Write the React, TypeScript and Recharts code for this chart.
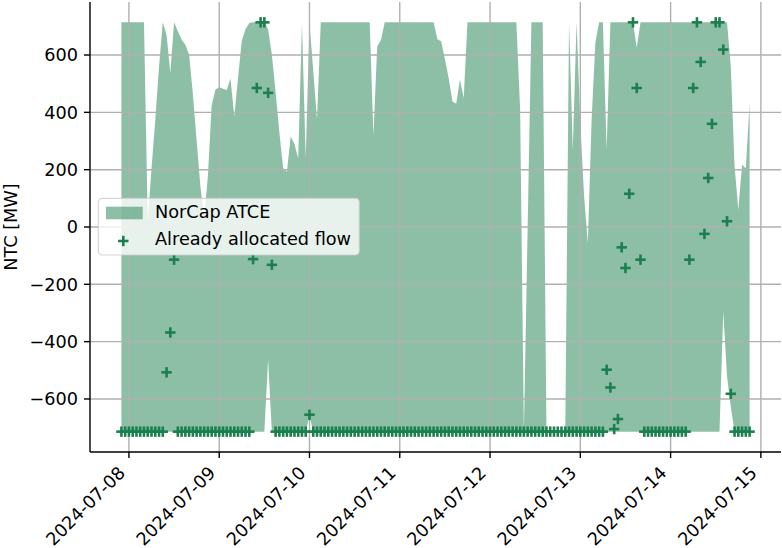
import { Area, ComposedChart, ReferenceLine, Scatter, XAxis, YAxis } from 'recharts';

// hourly values, index 0 = 2024-07-07 22:00
const ATCE_MAX = [
  714, 714, 714, 714, 714, 714, 714, 20, 203, 374, 558, 714, 671, 537, 714, 683, 654, 636, 601, 463, 301, 142, 30, 180,
  425, 480, 488, 482, 478, 518, 386, 520, 650, 690, 712, 714, 714, 714, 714, 690, 600, 470, 330, 205, 193, 316, 290, 240,
  712, 240, 712, 545, 375, 714, 714, 714, 714, 714, 714, 714, 714, 714, 714, 714, 714, 714, 714, 320, 630, 652, 714, 714,
  714, 714, 714, 714, 714, 714, 714, 714, 714, 714, 714, 714, 655, 648, 585, 520, 438, 430, 515, 450, 714, 714, 714, 714,
  714, 714, 714, 714, 714, 714, 714, 714, 714, 714, 410, -714, 0, 714, 714, 714, 714, -714, -714, -714, -714, -714, -714, 714,
  270, 714, 365, 107, -56, 375, 643, 714, 714, 270, 714, 714, 714, 714, 714, 714, 714, 625, 714, 714, 714, 714, 714, 714,
  714, 714, 714, 714, 714, 714, 714, 714, 714, 714, 714, 714, 714, 714, 714, 714, 714, 714, 560, 215, 60, 217, 205, 433,
];

const ATCE_MIN = [
  -714, -714, -714, -714, -714, -714, -714, -714, -714, -714, -714, -714, -714, -714, -714, -714, -714, -714, -714, -714, -714, -714, -714, -714,
  -714, -714, -714, -714, -714, -714, -714, -714, -714, -714, -714, -714, -714, -714, -714, -463, -714, -714, -714, -714, -714, -714, -714, -714,
  -714, -714, -660, -714, -714, -714, -714, -714, -714, -714, -714, -714, -714, -714, -714, -714, -714, -714, -714, -714, -714, -714, -714, -714,
  -714, -714, -714, -714, -714, -714, -714, -714, -714, -714, -714, -714, -714, -714, -714, -714, -714, -714, -714, -714, -714, -714, -714, -714,
  -714, -714, -714, -714, -714, -714, -714, -714, -714, -714, -714, -714, -714, -714, -714, -714, -714, -714, -714, -714, -714, -714, -714, -714,
  -714, -714, -714, -714, -714, -714, -714, -714, -714, -714, -714, -714, -714, -714, -714, -714, -714, -714, -714, -714, -714, -714, -714, -714,
  -714, -714, -714, -714, -714, -714, -714, -714, -714, -714, -714, -714, -714, -714, -714, -714, -295, -521, -626, -714, -714, -714, -714, -714,
];

const FLOW = [
  -714, -714, -714, -714, -714, -714, -714, -714, -714, -714, -714, -714, -507, -368, -114, -714, -714, -714, -714, -714, -714, -714, -714, -714,
  -714, -714, -714, -714, -714, -714, -714, -714, -714, -714, -714, -112, 485, 714, 714, 468, -132, -714, -714, -714, -714, -714, -714, -714,
  -714, -714, -655, -714, -714, -714, -714, -714, -714, -714, -714, -714, -714, -714, -714, -714, -714, -714, -714, -714, -714, -714, -714, -714,
  -714, -714, -714, -714, -714, -714, -714, -714, -714, -714, -714, -714, -714, -714, -714, -714, -714, -714, -714, -714, -714, -714, -714, -714,
  -714, -714, -714, -714, -714, -714, -714, -714, -714, -714, -714, -714, -714, -714, -714, -714, -714, -714, -714, -714, -714, -714, -714, -714,
  -714, -714, -714, -714, -714, -714, -714, -714, -714, -498, -560, -705, -670, -71, -143, 116, 714, 485, -114, -714, -714, -714, -714, -714,
  -714, -714, -714, -714, -714, -714, -714, -114, 485, 714, 576, -24, 171, 360, 714, 714, 619, 20, -582, -714, -714, -714, -714, -714,
];

const DAY_TICKS = [2, 26, 50, 74, 98, 122, 146, 170];
const DAY_LABELS = ['2024-07-08', '2024-07-09', '2024-07-10', '2024-07-11', '2024-07-12', '2024-07-13', '2024-07-14', '2024-07-15'];
const Y_TICKS = [-600, -400, -200, 0, 200, 400, 600];

const GREEN = '#1b7f4f';
const FONT = 'DejaVu Sans, sans-serif';
const FS = 17.7;

const data = ATCE_MAX.map((hi, h) => ({ h, band: [ATCE_MIN[h], hi], flow: FLOW[h] }));

const fmtY = (v: number) => (v < 0 ? '\u2212' + Math.abs(v) : String(v));

const DateTick = (props: any) => {
  const { x, payload } = props;
  const label = DAY_LABELS[DAY_TICKS.indexOf(payload.value)];
  const px = x - 2.8;
  const py = 474;
  return (
    <text
      x={px}
      y={py}
      transform={`rotate(-45, ${px}, ${py})`}
      textAnchor="end"
      fontFamily={FONT}
      fontSize={FS}
      fill="#000"
    >
      {label}
    </text>
  );
};

const Plus = (props: any) => {
  const { cx, cy } = props;
  if (cx == null || cy == null) return null;
  return (
    <g stroke={GREEN} strokeWidth={2.6}>
      <line x1={cx - 5.2} y1={cy} x2={cx + 5.2} y2={cy} />
      <line x1={cx} y1={cy - 5.2} x2={cx} y2={cy + 5.2} />
    </g>
  );
};

const LegendBox = () => (
  <svg width={264} height={60} style={{ position: 'absolute', left: 97, top: 197 }}>
    <rect x={1.3} y={1.3} width={261} height={56.7} rx={4} fill="#fff" fillOpacity={0.8} stroke="#ccc" strokeOpacity={0.8} strokeWidth={1.2} />
    <rect x={9} y={9.7} width={36.7} height={12.6} fill={GREEN} fillOpacity={0.5} />
    <text x={58} y={21.3} fontFamily={FONT} fontSize={FS} fill="#000">NorCap ATCE</text>
    <g stroke={GREEN} strokeWidth={2.6}>
      <line x1={26.3 - 5.2} y1={44} x2={26.3 + 5.2} y2={44} />
      <line x1={26.3} y1={44 - 5.2} x2={26.3} y2={44 + 5.2} />
    </g>
    <text x={58} y={48} fontFamily={FONT} fontSize={FS} fill="#000">Already allocated flow</text>
  </svg>
);

const gridStyle = { stroke: '#b0b0b0', strokeWidth: 1.4 };

export default function App() {
  return (
    <div style={{ position: 'absolute', left: 0, top: 0, width: 782, height: 548, background: '#fff' }}>
      <ComposedChart width={782} height={548} data={data} margin={{ top: 2, right: 1, bottom: 0, left: 0 }}>
        <XAxis
          dataKey="h"
          type="number"
          domain={[-8.35, 175.35]}
          ticks={DAY_TICKS}
          interval={0}
          allowDataOverflow
          height={96}
          tickSize={6}
          tick={<DateTick />}
          axisLine={{ stroke: '#000', strokeWidth: 1.4 }}
          tickLine={{ stroke: '#000', strokeWidth: 1.4 }}
        />
        <XAxis xAxisId="top" orientation="top" type="number" domain={[-8.35, 175.35]} height={0} tick={false} tickLine={false} axisLine={{ stroke: '#000', strokeWidth: 1.4 }} />
        <YAxis
          type="number"
          domain={[-785, 785]}
          ticks={Y_TICKS}
          interval={0}
          allowDataOverflow
          width={90}
          tickSize={6}
          tickMargin={6}
          tickFormatter={fmtY}
          tick={{ fill: '#000', fontFamily: FONT, fontSize: FS }}
          axisLine={{ stroke: '#000', strokeWidth: 1.4 }}
          tickLine={{ stroke: '#000', strokeWidth: 1.4 }}
          label={(p: any) => {
            const cy = p.viewBox.y + p.viewBox.height / 2;
            return (
              <text x={16.7} y={cy} transform={`rotate(-90, 16.7, ${cy})`} textAnchor="middle" fontFamily={FONT} fontSize={FS} fill="#000">
                NTC [MW]
              </text>
            );
          }}
        />
        <YAxis yAxisId="right" orientation="right" type="number" domain={[-785, 785]} width={0} tick={false} tickLine={false} axisLine={{ stroke: '#000', strokeWidth: 1.4 }} />
        <Area type="linear" dataKey="band" fill={GREEN} fillOpacity={0.5} stroke="none" isAnimationActive={false} />
        {DAY_TICKS.map((t) => (
          <ReferenceLine key={'x' + t} x={t} {...gridStyle} />
        ))}
        {Y_TICKS.map((t) => (
          <ReferenceLine key={'y' + t} y={t} {...gridStyle} />
        ))}
        <Scatter dataKey="flow" shape={<Plus />} isAnimationActive={false} />
      </ComposedChart>
      <LegendBox />
    </div>
  );
}
